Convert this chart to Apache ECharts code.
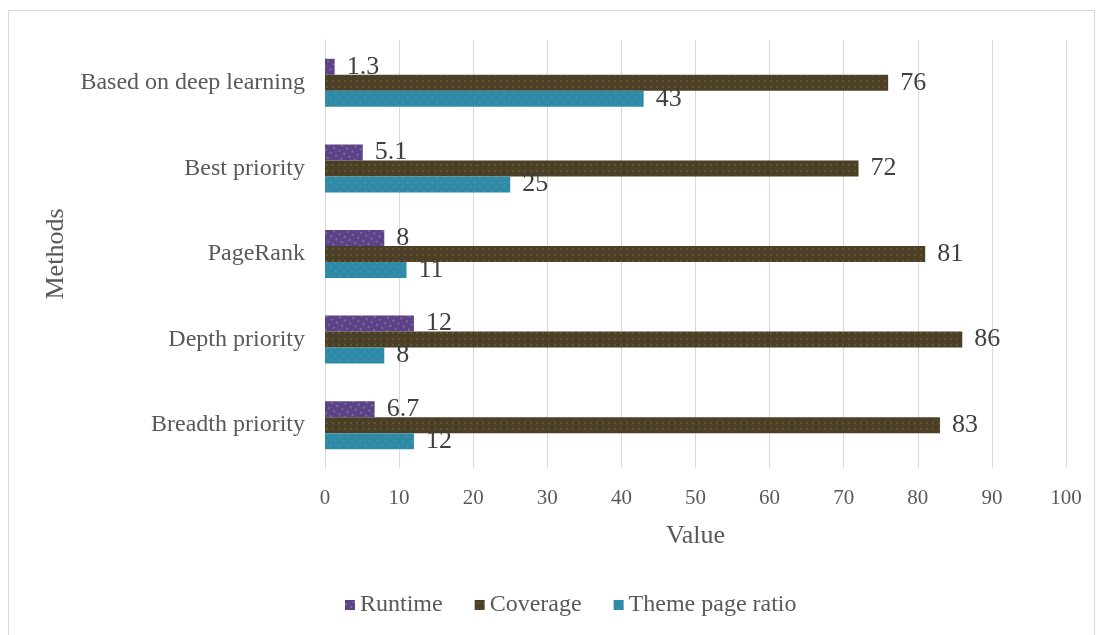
<!DOCTYPE html>
<html>
<head>
<meta charset="utf-8">
<script src="https://cdn.jsdelivr.net/npm/echarts@6/dist/echarts.min.js"></script>
<style>
  html, body { margin: 0; padding: 0; background: #fff; }
  #chart { width: 1102px; height: 635px; }
</style>
</head>
<body>
<div id="chart"></div>
<script>
const methods = ['Breadth priority', 'Depth priority', 'PageRank', 'Best priority', 'Based on deep learning']
const runtime = [6.7, 12, 8, 5.1, 1.3]
const coverage = [83, 86, 81, 72, 76]
const themeRatio = [12, 8, 11, 25, 43]
const legendNames = ['Runtime', 'Coverage', 'Theme page ratio']

const font = '"Liberation Serif", "Times New Roman", serif'

function dots (color) {
  return {
    symbol: 'circle',
    symbolSize: 0.3,
    color: color,
    dashArrayX: [6, 0],
    dashArrayY: [6, 0]
  }
}

function barSeries (name, data, color, dotColor) {
  return {
    name: name,
    type: 'bar',
    data: data,
    barWidth: 16,
    barGap: '0%',
    itemStyle: { color: color, decal: dots(dotColor) },
    label: {
      show: true,
      position: 'right',
      distance: 12,
      fontFamily: font,
      fontSize: 26,
      color: '#404040'
    }
  }
}

const chart = echarts.init(document.getElementById('chart'))
const option = {
  backgroundColor: '#fff',
  aria: { enabled: true, decal: { show: true } },
  graphic: [{
    type: 'rect',
    shape: { x: 8.5, y: 10.5, width: 1086, height: 640 },
    style: { fill: 'none', stroke: '#d9d9d9', lineWidth: 1 },
    silent: true
  }],
  grid: { left: 325, right: 36, top: 40, bottom: 167 },
  legend: {
    data: legendNames,
    bottom: 13,
    left: 340,
    itemWidth: 10,
    itemHeight: 10,
    itemGap: 32,
    icon: 'rect',
    textStyle: { fontFamily: font, fontSize: 24, color: '#595959' }
  },
  xAxis: {
    type: 'value',
    min: 0,
    max: 100,
    interval: 10,
    name: 'Value',
    nameLocation: 'middle',
    nameGap: 55,
    nameTextStyle: { fontFamily: font, fontSize: 26, color: '#595959' },
    axisLine: { show: false },
    axisTick: { show: false },
    axisLabel: { fontFamily: font, fontSize: 21, color: '#595959', margin: 20 },
    splitLine: { lineStyle: { color: '#d9d9d9' } }
  },
  yAxis: {
    type: 'category',
    data: methods,
    name: 'Methods',
    nameLocation: 'middle',
    nameGap: 254,
    nameRotate: 90,
    nameTextStyle: { fontFamily: font, fontSize: 26, color: '#595959' },
    axisLine: { lineStyle: { color: '#d9d9d9' } },
    axisTick: { show: false },
    axisLabel: { fontFamily: font, fontSize: 24, color: '#595959', margin: 20 }
  },
  series: [
    barSeries(legendNames[0], runtime, '#5c4388', 'rgba(255,255,255,0.3)'),
    barSeries(legendNames[1], coverage, '#4b3f26', 'rgba(200,160,100,0.3)'),
    barSeries(legendNames[2], themeRatio, '#2e8aa6', 'rgba(255,255,255,0.12)')
  ]
}
chart.setOption(option)
window.addEventListener('resize', function () {
  chart.resize()
})
</script>
</body>
</html>
